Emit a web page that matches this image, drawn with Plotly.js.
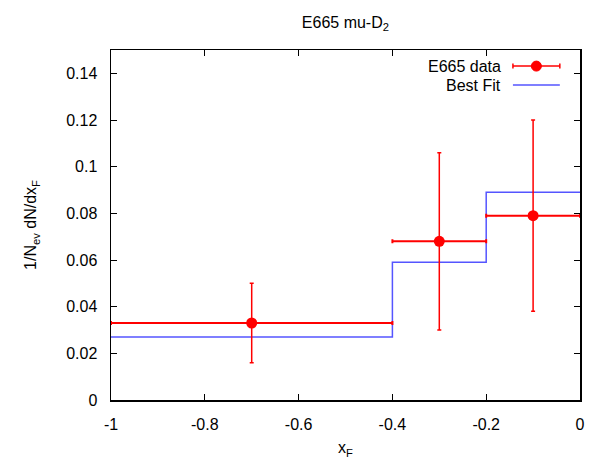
<!DOCTYPE html>
<html>
<head>
<meta charset="utf-8">
<script src="https://cdn.plot.ly/plotly-3.0.1.min.js"></script>
<style>html,body{margin:0;padding:0;background:#fff;}#chart{width:595px;height:461px;}</style>
</head>
<body>
<div id="chart"></div>
<script>
// Data
const dataX = [-0.7, -0.3, -0.1];
const dataY = [0.033, 0.068, 0.079];
const dataXErr = [0.3, 0.1, 0.1];
const dataYHigh = [0.050, 0.106, 0.120];
const dataYLow = [0.016, 0.030, 0.038];
const fitEdges = [-1, -0.4, -0.2, 0];
const fitValues = [0.027, 0.059, 0.089];
const xTickVals = [-1, -0.8, -0.6, -0.4, -0.2, 0];
const xTickText = ["-1", "-0.8", "-0.6", "-0.4", "-0.2", "0"];
const yTickVals = [0, 0.02, 0.04, 0.06, 0.08, 0.1, 0.12, 0.14];
const yTickText = ["0", "0.02", "0.04", "0.06", "0.08", "0.1", "0.12", "0.14"];

const yPlus = dataYHigh.map((h, i) => h - dataY[i]);
const yMinus = dataYLow.map((l, i) => dataY[i] - l);
const fitY = fitValues.concat([fitValues[fitValues.length - 1]]);

const red = '#ff0000';
const blue = '#5555ff';
const font = {family: 'Liberation Sans, Arial, sans-serif', size: 16, color: '#000'};

const traces = [
  {
    x: fitEdges, y: fitY, type: 'scatter', mode: 'lines',
    line: {shape: 'hv', color: blue, width: 1.5},
    name: 'Best Fit', showlegend: false, hoverinfo: 'skip'
  },
  {
    x: dataX, y: dataY, type: 'scatter', mode: 'markers',
    marker: {color: red, size: 11, symbol: 'circle'},
    error_x: {type: 'data', symmetric: true, array: dataXErr, color: red, thickness: 2, width: 2},
    error_y: {type: 'data', symmetric: false, array: yPlus, arrayminus: yMinus, color: red, thickness: 1.5, width: 2},
    name: 'E665 data', showlegend: false
  }
];

// Legend (manual, gnuplot-style: text right, sample left)
const lx0 = 0.857, lx1 = 0.957, lxm = 0.907, ly1 = 0.954, ly2 = 0.9;
const shapes = [
  {type: 'line', xref: 'paper', yref: 'paper', x0: lx0, x1: lx1, y0: ly1, y1: ly1, line: {color: red, width: 1.5}},
  {type: 'line', xref: 'paper', yref: 'paper', xsizemode: 'pixel', ysizemode: 'pixel', xanchor: lx0, yanchor: ly1, x0: 0, x1: 0, y0: -2.5, y1: 2.5, line: {color: red, width: 1.5}},
  {type: 'line', xref: 'paper', yref: 'paper', xsizemode: 'pixel', ysizemode: 'pixel', xanchor: lx1, yanchor: ly1, x0: 0, x1: 0, y0: -2.5, y1: 2.5, line: {color: red, width: 1.5}},
  {type: 'circle', xref: 'paper', yref: 'paper', xsizemode: 'pixel', ysizemode: 'pixel', xanchor: lxm, yanchor: ly1, x0: -5, x1: 5, y0: -5, y1: 5, fillcolor: red, line: {color: red, width: 1}},
  {type: 'line', xref: 'paper', yref: 'paper', x0: lx0, x1: lx1, y0: ly2, y1: ly2, line: {color: blue, width: 1.5}}
];

const annotations = [
  {text: 'E665 data', xref: 'paper', yref: 'paper', x: 0.836, y: ly1, xanchor: 'right', yanchor: 'middle', showarrow: false, font: font},
  {text: 'Best Fit', xref: 'paper', yref: 'paper', x: 0.836, y: ly2, xanchor: 'right', yanchor: 'middle', showarrow: false, font: font}
];

const layout = {
  width: 595, height: 461,
  margin: {l: 111, r: 15, t: 50, b: 61, pad: 0},
  paper_bgcolor: '#fff', plot_bgcolor: '#fff',
  font: font,
  showlegend: false,
  title: {text: 'E665 mu-D<sub>2</sub>', x: 0.5805, xanchor: 'center', y: 0.952, yanchor: 'middle', font: font},
  xaxis: {
    range: [-1, 0], tickmode: 'array', tickvals: xTickVals, ticktext: xTickText,
    ticks: 'inside', ticklen: 6, tickwidth: 1, tickcolor: '#000',
    showline: true, linecolor: '#000', linewidth: 1.5, mirror: 'ticks',
    showgrid: false, zeroline: false, tickfont: font, ticklabelstandoff: 9,
    title: {text: 'x<sub>F</sub>', font: font, standoff: 10}
  },
  yaxis: {
    range: [0, 0.15], tickmode: 'array', tickvals: yTickVals, ticktext: yTickText,
    ticks: 'inside', ticklen: 6, tickwidth: 1, tickcolor: '#000',
    showline: true, linecolor: '#000', linewidth: 1.5, mirror: 'ticks',
    showgrid: false, zeroline: false, tickfont: font, ticklabelstandoff: 9,
    title: {text: '1/N<sub>ev</sub> dN/dx<sub>F</sub>', font: font, standoff: 25}
  },
  shapes: shapes,
  annotations: annotations
};

Plotly.newPlot('chart', traces, layout, {staticPlot: true, displayModeBar: false});
</script>
</body>
</html>
